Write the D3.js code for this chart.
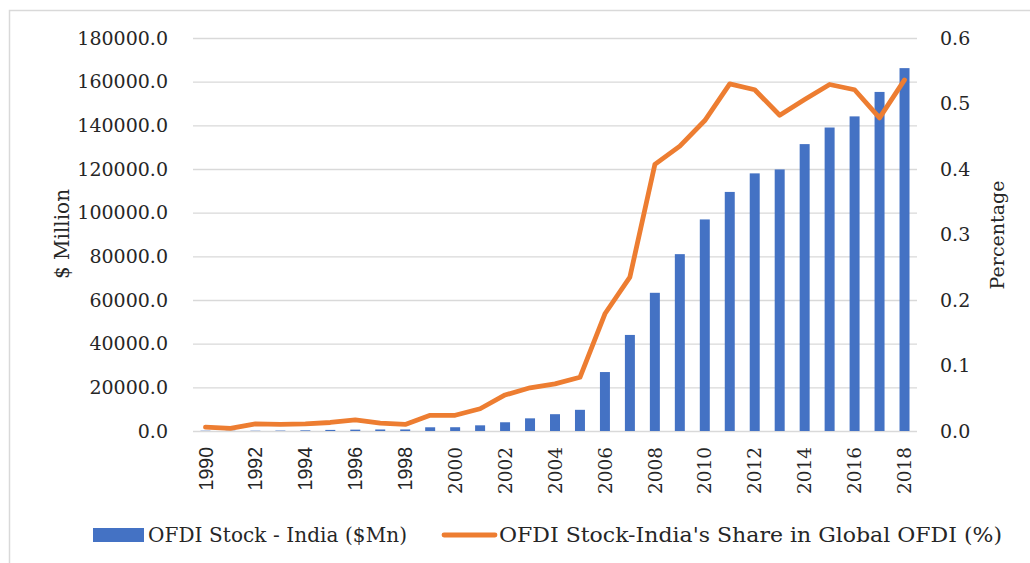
<!DOCTYPE html>
<html>
<head>
<meta charset="utf-8">
<script src="https://cdn.jsdelivr.net/npm/d3@7"></script>
<style>
  body { margin: 0; background: #fff; }
  svg text { fill: #262626; }
</style>
</head>
<body>
<svg id="chart" width="1030" height="563"></svg>
<script>
// data
var years = [1990,1991,1992,1993,1994,1995,1996,1997,1998,1999,2000,2001,2002,2003,2004,
             2005,2006,2007,2008,2009,2010,2011,2012,2013,2014,2015,2016,2017,2018];
var ofdiStock = [120,100,120,180,300,500,620,700,710,1700,1730,2600,4000,5800,7700,
                 9700,27000,44000,63300,81000,96900,109500,118000,119800,131400,139000,144100,155300,166200];
var shareGlobal = [0.006,0.004,0.011,0.010,0.011,0.013,0.017,0.012,0.010,0.024,0.024,0.034,0.055,0.066,0.072,
                   0.082,0.179,0.235,0.407,0.435,0.474,0.530,0.521,0.482,0.506,0.529,0.521,0.478,0.536];
var leftTicks = [0,20000,40000,60000,80000,100000,120000,140000,160000,180000];
var rightTicks = [0,0.1,0.2,0.3,0.4,0.5,0.6];
var legendLabels = ['OFDI Stock - India ($Mn)', "OFDI Stock-India's Share in Global OFDI (%)"];

var svg = d3.select('#chart');
var plot = { left: 193, right: 917, top: 38, bottom: 431 };
var serif = 'DejaVu Serif';

// outer frame
svg.append('rect')
  .attr('x', 9.5).attr('y', 10.5)
  .attr('width', 1040).attr('height', 600)
  .style('fill', 'none').style('stroke', '#d9d9d9').style('stroke-width', 1.5);

var x = d3.scaleBand().domain(years).range([plot.left, plot.right]).paddingInner(0.6).paddingOuter(0.3);
var yL = d3.scaleLinear().domain([0, 180000]).range([plot.bottom, plot.top]);
var yR = d3.scaleLinear().domain([0, 0.6]).range([plot.bottom, plot.top]);

// gridlines + left labels
var gl = svg.append('g')
  .attr('transform', `translate(${plot.left},0)`)
  .call(d3.axisLeft(yL).tickValues(leftTicks).tickSize(-(plot.right - plot.left))
        .tickPadding(25).tickFormat(d3.format('.1f')));
gl.select('.domain').remove();
gl.selectAll('line').style('stroke', '#d9d9d9').style('stroke-width', 1.3);
gl.selectAll('text').style('font-family', serif).style('font-size', '19px').style('fill', '#262626');

// right labels
var gr = svg.append('g')
  .attr('transform', `translate(${plot.right},0)`)
  .call(d3.axisRight(yR).tickValues(rightTicks).tickSize(0).tickPadding(23).tickFormat(d3.format('.1f')));
gr.select('.domain').remove();
gr.selectAll('text').style('font-family', serif).style('font-size', '19px').style('fill', '#262626');

// bars
svg.append('g').selectAll('rect')
  .data(years)
  .enter().append('rect')
  .attr('x', (d, i) => x(d))
  .attr('width', x.bandwidth())
  .attr('y', (d, i) => yL(ofdiStock[i]))
  .attr('height', (d, i) => plot.bottom - yL(ofdiStock[i]))
  .style('fill', '#4472c4');

// share line
var line = d3.line()
  .x((d, i) => x(years[i]) + x.bandwidth() / 2)
  .y(d => yR(d));
svg.append('path')
  .datum(shareGlobal)
  .attr('d', line)
  .style('fill', 'none')
  .style('stroke', '#ed7d31')
  .style('stroke-width', 4.8)
  .style('stroke-linejoin', 'round')
  .style('stroke-linecap', 'round');

// x labels, every other year, rotated
svg.append('g').selectAll('text')
  .data(years.filter(d => d % 2 == 0))
  .enter().append('text')
  .attr('transform', d => `translate(${x(d) + x.bandwidth() / 2},447) rotate(-90)`)
  .attr('text-anchor', 'end')
  .attr('dy', '0.36em')
  .style('font-family', d => d < 2000 ? 'Liberation Sans' : serif)
  .style('font-size', d => d < 2000 ? '19.5px' : '18.5px')
  .text(d => d);

// axis titles
svg.append('text')
  .attr('transform', 'translate(62,234) rotate(-90)')
  .attr('text-anchor', 'middle')
  .attr('dy', '0.35em')
  .style('font-family', serif).style('font-size', '20px')
  .text('$ Million');
svg.append('text')
  .attr('transform', 'translate(997,235) rotate(-90)')
  .attr('text-anchor', 'middle')
  .attr('dy', '0.35em')
  .style('font-family', serif).style('font-size', '19px')
  .text('Percentage');

// legend
var lg = svg.append('g');
lg.append('rect')
  .attr('x', 93).attr('y', 528).attr('width', 51).attr('height', 14)
  .style('fill', '#4472c4');
lg.append('text')
  .attr('x', 148).attr('y', 542)
  .attr('textLength', 259).attr('lengthAdjust', 'spacing')
  .style('font-family', serif).style('font-size', '20px')
  .text(legendLabels[0]);
lg.append('line')
  .attr('x1', 444).attr('x2', 495).attr('y1', 535).attr('y2', 535)
  .style('stroke', '#ed7d31').style('stroke-width', 4.8).style('stroke-linecap', 'round');
lg.append('text')
  .attr('x', 499).attr('y', 542)
  .attr('textLength', 503).attr('lengthAdjust', 'spacingAndGlyphs')
  .style('font-family', serif).style('font-size', '20.5px')
  .text(legendLabels[1]);
</script>
</body>
</html>
